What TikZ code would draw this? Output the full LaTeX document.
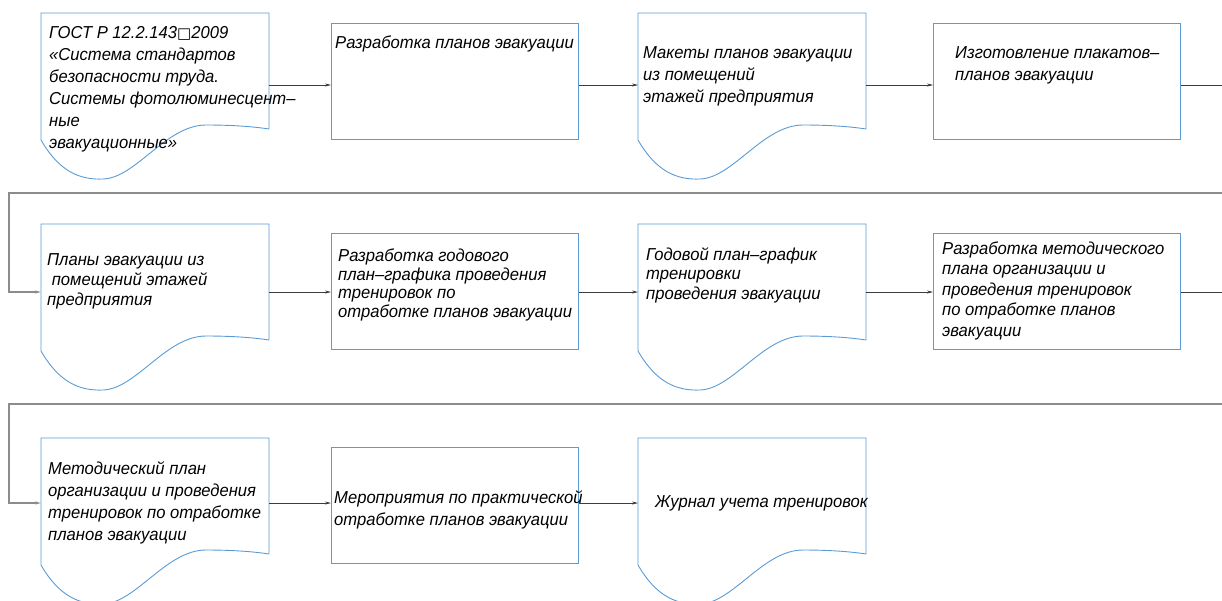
\documentclass[tikz,border=0pt]{standalone}
\usepackage{fontspec}
\setmainfont{Liberation Sans}
\newfontfamily\gostfont[FakeStretch=0.96]{Liberation Sans}
\newfontfamily\symfont{DejaVu Sans}
\usetikzlibrary{arrows.meta}
\definecolor{boxblue}{RGB}{91,155,213}
\definecolor{linkgray}{RGB}{60,60,60}
\definecolor{feedgray}{RGB}{140,140,140}
\tikzset{
  shapeline/.style={draw=boxblue, line width=0.9pt},
  procbox/.style={shapeline, rectangle, minimum width=247pt, minimum height=116pt, anchor=north west, inner sep=0pt},
  docarea/.style={rectangle, minimum width=228pt, minimum height=116pt, anchor=north west, inner sep=0pt},
  lbl/.style={font=\gostfont\itshape\fontsize{17.3}{#1}\selectfont, align=left, anchor=north west, inner sep=0pt, text=black},
  lbl/.default=22pt,
  tipx/.tip={Stealth[length=6pt,width=3pt]},
  link/.style={draw=linkgray, line width=0.6pt, -tipx},
  stub/.style={draw=linkgray, line width=0.6pt},
  feed/.style={draw=feedgray, line width=1.1pt, -tipx},
}
\newcommand\docoutline[1]{%
  \begin{scope}[shift={(#1.north west)}]
    \draw[shapeline, line join=miter] (228,116) -- (228,0) -- (0,0) -- (0,127)
      .. controls (18,158) and (38,167) .. (62,166)
      .. controls (95,165) and (125,112) .. (165,112)
      .. controls (195,112) and (215,114) .. (228,116);
  \end{scope}}
\begin{document}
\begin{tikzpicture}[x=1pt, y=-1pt]
\useasboundingbox (0,0) rectangle (1222,600);
% row coordinates
\coordinate (r1) at (0,85);
\coordinate (r2) at (0,292);
\coordinate (r3) at (0,503);
% ---------- row 1
\node[docarea] (d1) at (41,13) {};
\docoutline{d1}
\node[lbl] (t1) at (49,26.5) {ГОСТ Р 12.2.143{\symfont\fontsize{15}{15}\selectfont □}2009\\«Система стандартов\\безопасности труда.\\Системы фотолюминесцент–\\ные\\эвакуационные»};
\node[procbox] (b2) at (331,23) {};
\node[lbl] (t2) at (335,35.5) {Разработка планов эвакуации};
\node[docarea] (d3) at (638,13) {};
\docoutline{d3}
\node[lbl] (t3) at (643,46.5) {Макеты планов эвакуации\\из помещений\\этажей предприятия};
\node[procbox] (b4) at (933,23) {};
\node[lbl] (t4) at (955,46.5) {Изготовление плакатов–\\планов эвакуации};
% ---------- row 2
\node[docarea] (d5) at (41,224) {};
\docoutline{d5}
\node[lbl=20pt] (t5) at (47,253.5) {Планы эвакуации из\\\ помещений этажей\\предприятия};
\node[procbox] (b6) at (331,233) {};
\node[lbl=18.7pt] (t6) at (338,248.5) {Разработка годового\\план–графика проведения\\тренировок по\\отработке планов эвакуации};
\node[docarea] (d7) at (638,224) {};
\docoutline{d7}
\node[lbl=19.5pt] (t7) at (646,247.5) {Годовой план–график\\тренировки\\проведения эвакуации};
\node[procbox] (b8) at (933,233) {};
\node[lbl=20.5pt] (t8) at (942,241.5) {Разработка методического\\плана организации и\\проведения тренировок\\по отработке планов\\эвакуации};
% ---------- row 3
\node[docarea] (d9) at (41,438) {};
\docoutline{d9}
\node[lbl] (t9) at (48,461.5) {Методический план\\организации и проведения\\тренировок по отработке\\планов эвакуации};
\node[procbox] (b10) at (331,447) {};
\node[lbl] (t10) at (334,490.5) {Мероприятия по практической\\отработке планов эвакуации};
\node[docarea] (d11) at (638,438) {};
\docoutline{d11}
\node[lbl] (t11) at (655,495.5) {Журнал учета тренировок};
% ---------- connectors
\coordinate (e1) at (1240,85);
\coordinate (g1) at (9,193);
\coordinate (e2) at (1240,292);
\coordinate (g2) at (9,404);
\draw[link] (d1.east |- r1) -- (b2.west |- r1);
\draw[link] (b2.east |- r1) -- (d3.west |- r1);
\draw[link] (d3.east |- r1) -- (b4.west |- r1);
\draw[stub] (b4.east |- r1) -- (e1);
\draw[feed] (e1) |- (g1) |- (d5.west |- r2);
\draw[link] (d5.east |- r2) -- (b6.west |- r2);
\draw[link] (b6.east |- r2) -- (d7.west |- r2);
\draw[link] (d7.east |- r2) -- (b8.west |- r2);
\draw[stub] (b8.east |- r2) -- (e2);
\draw[feed] (e2) |- (g2) |- (d9.west |- r3);
\draw[link] (d9.east |- r3) -- (b10.west |- r3);
\draw[link] (b10.east |- r3) -- (d11.west |- r3);
\end{tikzpicture}
\end{document}
